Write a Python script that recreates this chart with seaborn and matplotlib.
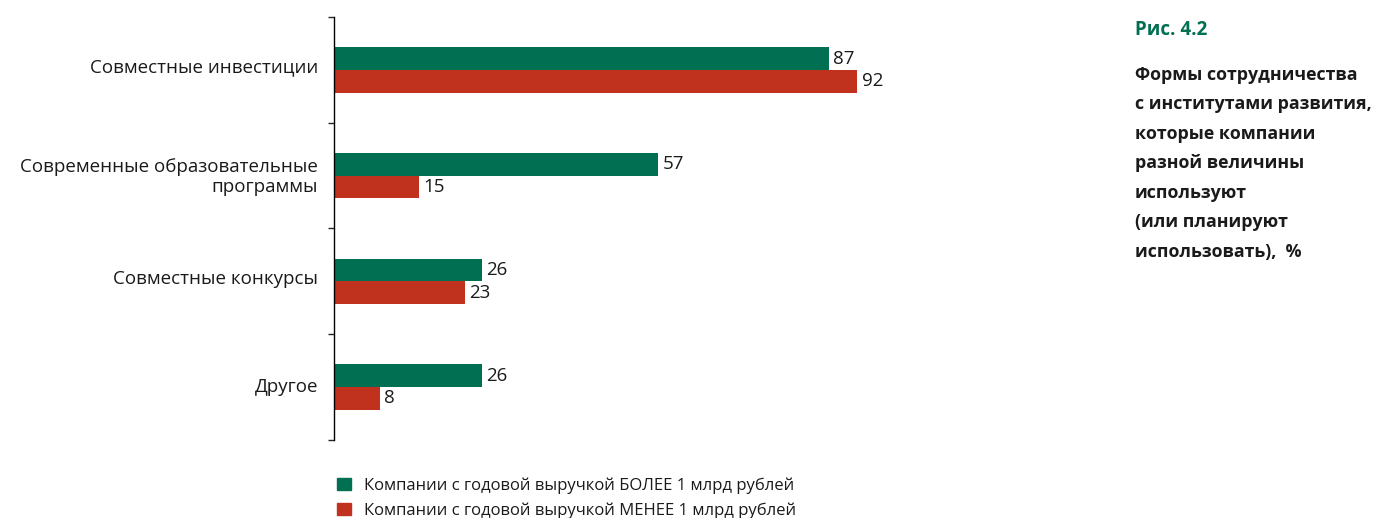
import matplotlib
matplotlib.use("Agg")
import matplotlib.pyplot as plt
import pandas as pd
import seaborn as sns

# данные
categories = ['Совместные инвестиции',
              'Современные образовательные\nпрограммы',
              'Совместные конкурсы',
              'Другое']
series = ['Компании с годовой выручкой БОЛЕЕ 1 млрд рублей',
          'Компании с годовой выручкой МЕНЕЕ 1 млрд рублей']
big_values = [87, 57, 26, 26]
small_values = [92, 15, 23, 8]

colors = ['#006F52', '#C0311E']

df = pd.DataFrame({
    'cat': categories * 2,
    'group': [series[0]] * 4 + [series[1]] * 4,
    'val': big_values + small_values,
})

sns.set_style('white')
plt.rcParams['font.family'] = ['Open Sans', 'DejaVu Sans']

fig = plt.figure(figsize=(13.75, 5.18), dpi=100)
ax = fig.add_axes([334 / 1375, 1 - 440 / 518, 569 / 1375, 423 / 518])

sns.barplot(data=df, y='cat', x='val', hue='group', orient='h',
            palette=colors, width=0.43, saturation=1, linewidth=0,
            ax=ax, legend=False)

for cont in ax.containers:
    ax.bar_label(cont, padding=3, fontsize=13.5, color='#1a1a1a')

ax.set_xlim(0, 100)
ax.set_ylim(3.5, -0.5)
ax.set_yticks([-0.5, 0.5, 1.5, 2.5, 3.5])
ax.set_yticklabels([])
ax.set_yticks([-0.04, 0.98, 1.96, 2.98], minor=True)
ax.set_yticklabels(categories, minor=True, fontsize=13.5, color='#1a1a1a')
ax.tick_params(axis='y', which='major', length=4, width=1, direction='out', left=True)
ax.tick_params(axis='y', which='minor', length=0, pad=11.5)
ax.set_xticks([])
ax.set_xlabel('')
ax.set_ylabel('')
for s in ['top', 'right', 'bottom']:
    ax.spines[s].set_visible(False)
ax.spines['left'].set_color('black')
ax.spines['left'].set_linewidth(1)

# легенда
handles = [plt.Rectangle((0, 0), 1, 1, color=c) for c in colors]
fig.legend(handles, series, loc='upper left', bbox_to_anchor=(324 / 1375, 1 - 464 / 518),
           frameon=False, fontsize=12, handlelength=0.8, handleheight=0.8,
           handletextpad=0.8, labelspacing=0.5, labelcolor='#1a1a1a',
           borderpad=0.3)

# подпись справа
fig.text(1135 / 1375, 1 - 30 / 518, 'Рис. 4.2', color='#006F52', fontsize=13.5,
         fontweight='bold', va='center', ha='left')
fig.text(1135 / 1375, 1 - 66 / 518,
         'Формы сотрудничества\nс институтами развития,\nкоторые компании\nразной величины\nиспользуют\n(или планируют\nиспользовать),  %',
         color='#1a1a1a', fontsize=12.8, fontweight='bold', va='top', ha='left',
         linespacing=1.82)

fig.savefig('out.png', dpi=100)
